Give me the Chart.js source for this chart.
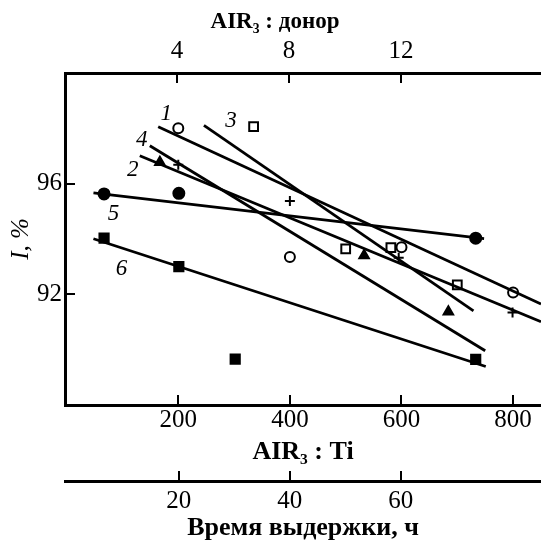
<!DOCTYPE html>
<html>
<head>
<meta charset="utf-8">
<script src="https://cdn.jsdelivr.net/npm/chart.js@4"></script>
<style>
  html, body { margin: 0; padding: 0; background: #fff; }
  canvas { display: block; }
</style>
</head>
<body>
<canvas id="chart" width="541" height="545"></canvas>
<script>
// Measured points, x = AlR3:Ti ratio, y = I, %
const x1 = [200, 400, 600, 800];
const y1 = [98.0, 93.35, 93.7, 92.07];
const x2 = [167, 533, 684];
const y2 = [96.77, 93.4, 91.37];
const x3 = [335, 500, 581, 700];
const y3 = [98.06, 93.64, 93.69, 92.34];
const x4 = [200, 400, 595, 799];
const y4 = [96.68, 95.37, 93.32, 91.34];
const x5 = [67, 201, 733];
const y5 = [95.63, 95.65, 94.03];
const x6 = [67, 201, 302, 733];
const y6 = [94.03, 93.0, 89.66, 89.65];

// Fitted lines (start / end)
const fitX1 = [164, 850];
const fitY1 = [98.06, 91.65];
const fitX2 = [131, 850];
const fitY2 = [97.01, 91.01];
const fitX3 = [246, 729];
const fitY3 = [98.11, 91.4];
const fitX4 = [149, 750];
const fitY4 = [97.37, 89.96];
const fitX5 = [48, 748];
const fitY5 = [95.67, 94.01];
const fitX6 = [48, 751];
const fitY6 = [94.01, 89.39];

const seriesNames = ['1', '2', '3', '4', '5', '6'];

// Axis ticks
const ratioTiTicks = [200, 400, 600, 800];
const donorTicks = [4, 8, 12];
const timeTicks = [20, 40, 60];
const yTicks = [92, 96];

const serif = "'Liberation Serif', 'DejaVu Serif', serif";
Chart.defaults.color = '#000';

function pts(xs, ys) {
  return xs.map((x, i) => ({ x: x, y: ys[i] }));
}

function markers(xs, ys, style, filled, r) {
  return {
    type: 'scatter',
    data: pts(xs, ys),
    pointStyle: style,
    pointRadius: r,
    pointHoverRadius: r,
    pointBorderWidth: 2,
    pointBorderColor: '#000',
    pointBackgroundColor: filled ? '#000' : '#fff',
    showLine: false
  };
}

function fit(xs, ys, name) {
  return {
    type: 'scatter',
    label: name,
    data: pts(xs, ys),
    showLine: true,
    borderColor: '#000',
    borderWidth: 2.8,
    pointRadius: 0,
    pointHoverRadius: 0
  };
}

function setTicks(values) {
  return function(scale) {
    scale.ticks = values.map(v => ({ value: v }));
  };
}

// fixed axis sizes, no extra label padding around the plot
function fixSize(w, h) {
  return function(s) {
    if (w) s.width = w;
    if (h) s.height = h;
    s.paddingLeft = 0;
    s.paddingRight = 0;
    s.paddingTop = 0;
    s.paddingBottom = 0;
  };
}

function axisGrid() {
  return { drawOnChartArea: false, color: '#000', lineWidth: 2, tickLength: -10 };
}

const tickFont = { family: serif, size: 25 };
const titleFont = { family: serif, size: 26, weight: 'bold' };

// series numbers next to the start of each fitted line (pixel offsets)
const labelOffsets = [[8, -13], [-7, 14], [27, -4], [-8, -6], [20, 21], [28, 30]];

const lineLabels = {
  id: 'lineLabels',
  afterDatasetsDraw(chart) {
    const ctx = chart.ctx;
    ctx.save();
    ctx.font = 'italic 23px ' + serif;
    ctx.fillStyle = '#000';
    ctx.textAlign = 'center';
    ctx.textBaseline = 'middle';
    chart.data.datasets.forEach((ds, i) => {
      if (!ds.label) return;
      const k = seriesNames.indexOf(ds.label);
      const p = chart.getDatasetMeta(i).data[0];
      ctx.fillText(ds.label, p.x + labelOffsets[k][0], p.y + labelOffsets[k][1]);
    });
    // top axis title sits left of centre in the original
    const top = chart.scales.donor;
    ctx.font = 'bold 23px ' + serif;
    ctx.fillText('AIR₃ : донор', top.left + 210, top.top + 22);
    ctx.restore();
  }
};

new Chart(document.getElementById('chart'), {
  type: 'scatter',
  data: {
    datasets: [
      fit(fitX1, fitY1, seriesNames[0]),
      fit(fitX2, fitY2, seriesNames[1]),
      fit(fitX3, fitY3, seriesNames[2]),
      fit(fitX4, fitY4, seriesNames[3]),
      fit(fitX5, fitY5, seriesNames[4]),
      fit(fitX6, fitY6, seriesNames[5]),
      markers(x1, y1, 'circle', false, 5),
      markers(x2, y2, 'triangle', true, 5.5),
      markers(x3, y3, 'rect', false, 6.2),
      markers(x4, y4, 'cross', false, 5),
      markers(x5, y5, 'circle', true, 5.5),
      markers(x6, y6, 'rect', true, 6.5)
    ]
  },
  options: {
    responsive: false,
    animation: false,
    events: [],
    layout: { padding: 0, autoPadding: false },
    plugins: { legend: { display: false }, tooltip: { enabled: false } },
    scales: {
      x: {
        type: 'linear',
        position: 'bottom',
        weight: 0,
        min: -3,
        max: 850,
        afterBuildTicks: setTicks(ratioTiTicks),
        afterFit: fixSize(0, 76),
        grid: axisGrid(),
        border: { display: true, color: '#000', width: 3 },
        ticks: { font: tickFont, padding: 10, maxRotation: 0 },
        title: { display: true, text: 'AIR₃ : Ti', font: titleFont, padding: { top: 0, bottom: 13 } }
      },
      time: {
        type: 'linear',
        position: 'bottom',
        weight: 1,
        min: -0.5,
        max: 85.3,
        afterBuildTicks: setTicks(timeTicks),
        afterFit: fixSize(0, 64),
        grid: axisGrid(),
        border: { display: true, color: '#000', width: 3 },
        ticks: { font: tickFont, padding: 15, maxRotation: 0 },
        title: { display: true, text: 'Время выдержки, ч', font: titleFont, padding: { top: 0, bottom: 1 } }
      },
      donor: {
        type: 'linear',
        position: 'top',
        min: 0,
        max: 17,
        afterBuildTicks: setTicks(donorTicks),
        afterFit: fixSize(0, 73),
        grid: axisGrid(),
        border: { display: true, color: '#000', width: 3 },
        ticks: { font: tickFont, padding: 17, maxRotation: 0 },
        title: { display: false }
      },
      y: {
        type: 'linear',
        position: 'left',
        min: 88,
        max: 100,
        afterBuildTicks: setTicks(yTicks),
        afterFit: fixSize(65, 0),
        grid: axisGrid(),
        border: { display: true, color: '#000', width: 3 },
        ticks: { font: tickFont, padding: 13 },
        title: { display: true, text: 'I, %', font: { family: serif, size: 25, style: 'italic' }, padding: { top: 6, bottom: 0 } }
      }
    }
  },
  plugins: [lineLabels]
});
</script>
</body>
</html>
